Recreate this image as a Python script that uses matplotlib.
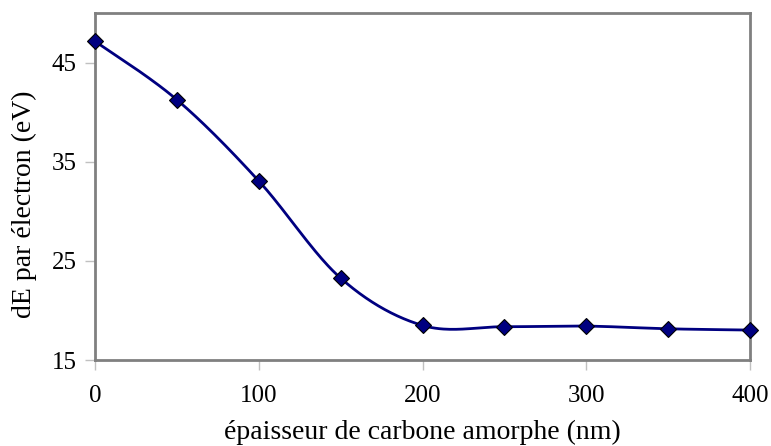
import numpy as np
import matplotlib
matplotlib.use('Agg')
import matplotlib.pyplot as plt

# donnees
epaisseur = [0, 50, 100, 150, 200, 250, 300, 350, 400]
dE = [47.15, 41.25, 33.06, 23.26, 18.49, 18.36, 18.42, 18.15, 18.02]
xticks = [0, 100, 200, 300, 400]
yticks = [15, 25, 35, 45]

def lissage(x, y, n=40):
    # courbe lissee a la Excel (Bezier type Catmull-Rom)
    x = np.array(x, dtype=float)
    y = np.array(y, dtype=float)
    px = np.concatenate([[x[0]], x, [x[-1]]])
    py = np.concatenate([[y[0]], y, [y[-1]]])
    xs, ys = [], []
    t = np.linspace(0, 1, n)
    for i in range(1, len(px) - 2):
        x0, x1, x2, x3 = px[i-1], px[i], px[i+1], px[i+2]
        y0, y1, y2, y3 = py[i-1], py[i], py[i+1], py[i+2]
        c1x, c1y = x1 + (x2 - x0) / 6, y1 + (y2 - y0) / 6
        c2x, c2y = x2 - (x3 - x1) / 6, y2 - (y3 - y1) / 6
        bx = (1-t)**3*x1 + 3*(1-t)**2*t*c1x + 3*(1-t)*t**2*c2x + t**3*x2
        by = (1-t)**3*y1 + 3*(1-t)**2*t*c1y + 3*(1-t)*t**2*c2y + t**3*y2
        xs.extend(bx)
        ys.extend(by)
    return xs, ys

plt.rcParams['font.family'] = ['Liberation Serif', 'DejaVu Serif']

fig = plt.figure(figsize=(7.71, 4.46), dpi=100)
ax = fig.add_axes([0.1232, 0.1928, 0.8496, 0.7781])

xs, ys = lissage(epaisseur, dE)
ax.plot(xs, ys, color='#000080', lw=2, zorder=3)
ax.plot(epaisseur, dE, ls='none', marker='D', ms=8, mfc='#000080',
        mec='black', mew=0.8, zorder=4, clip_on=False)

ax.set_xlim(0, 400)
ax.set_ylim(15, 50)
ax.set_xticks(xticks)
ax.set_yticks(yticks)
for s in ax.spines.values():
    s.set_color('#808080')
    s.set_linewidth(2)
ax.tick_params(direction='out', color='#c0c0c0', length=7, width=1,
               labelsize=18)
ax.tick_params(axis='x', pad=11)
ax.tick_params(axis='y', pad=6)
ax.set_xlabel('épaisseur de carbone amorphe (nm)', fontsize=20, labelpad=9)
ax.set_ylabel('dE par électron (eV)', fontsize=20)
ax.yaxis.set_label_coords(-0.088, 0.45)

fig.savefig('out.png', dpi=100)
